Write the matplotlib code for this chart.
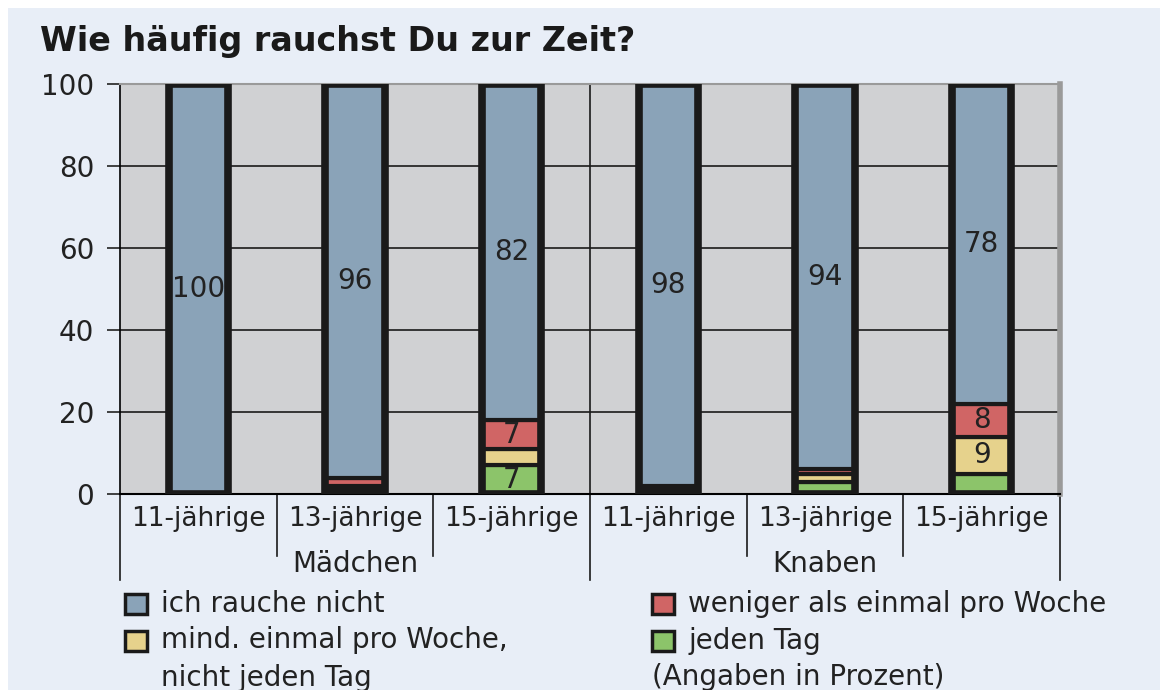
import matplotlib.pyplot as plt
from matplotlib.patches import Rectangle

# data (percent), bars: Mädchen 11/13/15, Knaben 11/13/15
ages = ['11-jährige', '13-jährige', '15-jährige', '11-jährige', '13-jährige', '15-jährige']
groups = ['Mädchen', 'Knaben']
jeden_tag = [0, 1, 7, 1, 3, 5]
mind_woche = [0, 1, 4, 0.5, 2, 9]
weniger = [0, 2, 7, 0.5, 1, 8]
nicht = [100, 96, 82, 98, 94, 78]

series = [jeden_tag, mind_woche, weniger, nicht]
colors = ['#8cc46a', '#e6d28c', '#d06565', '#8aa3b8']
legend_labels = ['ich rauche nicht', 'weniger als einmal pro Woche',
                 'mind. einmal pro Woche,\nnicht jeden Tag', 'jeden Tag']

plt.rcParams['font.family'] = 'DejaVu Sans'
fig = plt.figure(figsize=(11.68, 6.90), dpi=100, facecolor='white')
fig.patches.append(Rectangle((8 / 1168, 0), 1152 / 1168, 1 - 8 / 690,
                             transform=fig.transFigure, facecolor='#e8eef7',
                             edgecolor='none', zorder=-10))

ax = fig.add_axes([120 / 1168, 1 - 494 / 690, 940 / 1168, 410 / 690])
ax.set_facecolor('#d0d1d3')
ax.set_xlim(-0.5, 5.5)
ax.set_ylim(0, 100)

txt = '#222222'
x = list(range(len(ages)))
w = 0.38
bottom = [0] * len(x)
for vals, col in zip(series, colors):
    ax.bar(x, vals, w, bottom=bottom, color=col, edgecolor='#1a1a1a',
           linewidth=3, zorder=3)
    for i, v in enumerate(vals):
        if v >= 7:
            ax.text(x[i], bottom[i] + v / 2, '%g' % v, ha='center', va='center',
                    fontsize=20, color=txt, zorder=5)
    bottom = [b + v for b, v in zip(bottom, vals)]

# thick outline around each bar
ax.bar(x, [100] * len(x), w, color='none', edgecolor='#1a1a1a', linewidth=5.5, zorder=4)

for y in [20, 40, 60, 80]:
    ax.axhline(y, color='#1a1a1a', lw=1.2, zorder=1)
ax.plot([2.5, 2.5], [100, -21], color='#1a1a1a', lw=1.2, clip_on=False, zorder=1)
ax.plot([-0.5, -0.5], [0, -21], color='#1a1a1a', lw=1.2, clip_on=False)
ax.plot([5.5, 5.5], [0, -21], color='#1a1a1a', lw=1.2, clip_on=False)
for xs in [0.5, 1.5, 3.5, 4.5]:
    ax.plot([xs, xs], [0, -15], color='#1a1a1a', lw=1.2, clip_on=False)

for s in ['top', 'right']:
    ax.spines[s].set_color('#9a9a9a')
ax.spines['right'].set_linewidth(4)
ax.spines['top'].set_linewidth(1.5)
ax.spines['left'].set_linewidth(1.2)
ax.spines['bottom'].set_linewidth(1.5)

ax.set_yticks([0, 20, 40, 60, 80, 100])
ax.tick_params(axis='y', length=9.5, width=1.2, labelsize=20, pad=9, colors=txt)
ax.set_xticks(x)
ax.set_xticklabels(ages, fontsize=19, color=txt)
ax.tick_params(axis='x', length=0, pad=9)

ax.text(1, -17, groups[0], ha='center', va='center', fontsize=20, color=txt)
ax.text(4, -17, groups[1], ha='center', va='center', fontsize=20, color=txt)

fig.text(40 / 1168, 1 - 42 / 690, 'Wie häufig rauchst Du zur Zeit?', fontsize=24,
         fontweight='bold', va='center', color='#1a1a1a')

# legend
leg = [(125, 604, colors[3], legend_labels[0]),
       (652, 604, colors[2], legend_labels[1]),
       (125, 641, colors[1], legend_labels[2]),
       (652, 641, colors[0], legend_labels[3])]
for px, py, col, lab in leg:
    fig.patches.append(Rectangle((px / 1168, 1 - (py + 10) / 690), 22 / 1168, 20 / 690,
                                 transform=fig.transFigure, facecolor=col,
                                 edgecolor='#1a1a1a', linewidth=2.5, zorder=3))
    ty = py + 18 if '\n' in lab else py
    fig.text((px + 36) / 1168, 1 - ty / 690, lab, fontsize=20, va='center',
             color=txt, linespacing=1.42)
fig.text(652 / 1168, 1 - 677 / 690, '(Angaben in Prozent)', fontsize=20, va='center', color=txt)

fig.savefig('out.png', dpi=100, facecolor=fig.get_facecolor())
